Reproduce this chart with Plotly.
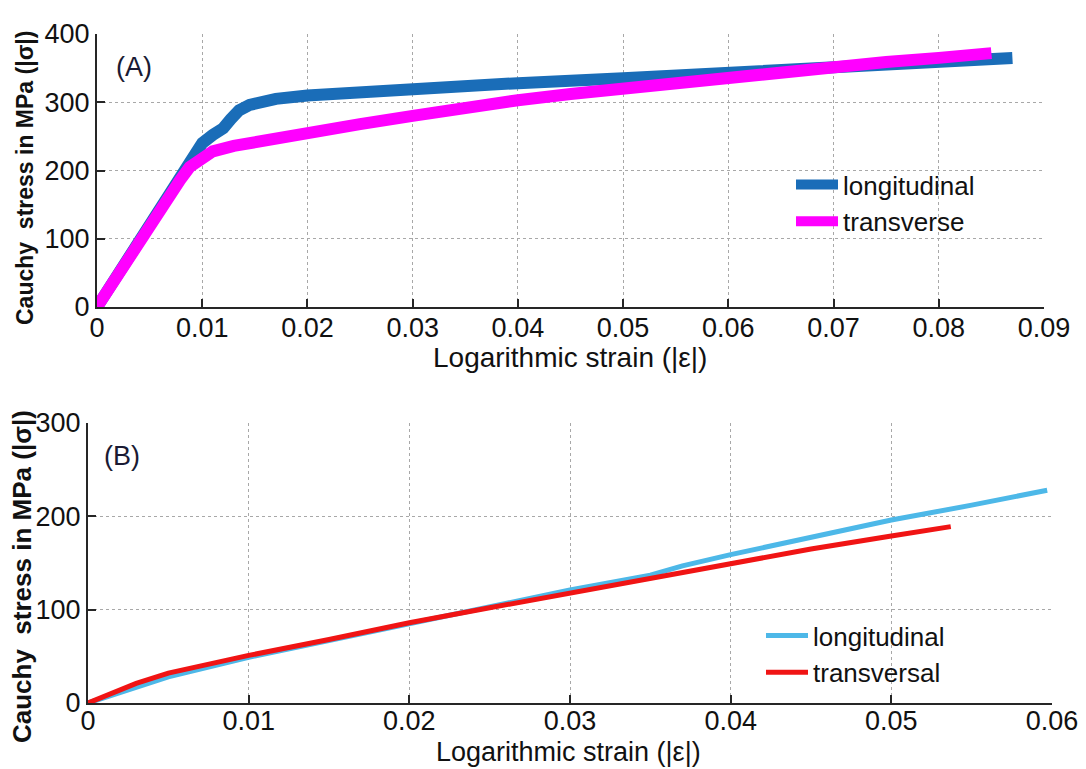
import plotly.graph_objects as go

# ---- Panel (A) data ----
a_long_x = [0, 0.001, 0.002, 0.0034, 0.005, 0.0065, 0.0079, 0.009, 0.0095, 0.010, 0.011, 0.012, 0.0127,
            0.0135, 0.0145, 0.0155, 0.017, 0.02, 0.025, 0.03, 0.035, 0.04, 0.05, 0.06, 0.07, 0.08, 0.087]
a_long_y = [0, 24, 50, 79, 117, 150, 186, 218, 228, 240, 252, 262, 275,
            288, 296, 301, 305, 310, 315, 320, 325, 328, 335, 343, 351, 358, 365]

a_trans_x = [0, 0.001, 0.002, 0.0034, 0.005, 0.0065, 0.0079, 0.0088, 0.0098, 0.011, 0.013, 0.015, 0.02,
             0.025, 0.03, 0.035, 0.04, 0.045, 0.05, 0.055, 0.06, 0.065, 0.07, 0.075, 0.08, 0.085]
a_trans_y = [0, 24, 50, 79, 117, 150, 186, 205, 218, 228, 236, 242, 255,
             268, 280, 293, 303, 312, 320, 330, 339, 346, 352, 359, 365, 372]

# ---- Panel (B) data ----
b_long_x = [0, 0.002, 0.005, 0.01, 0.015, 0.02, 0.025, 0.03, 0.035, 0.037, 0.04, 0.045, 0.05, 0.055, 0.0597]
b_long_y = [0, 11, 28, 49, 67, 86, 103, 121, 137, 147, 159, 178, 196, 212, 228]

b_trans_x = [0, 0.001, 0.002, 0.003, 0.005, 0.0075, 0.01, 0.015, 0.02, 0.025, 0.03, 0.035, 0.037,
             0.04, 0.045, 0.05, 0.0537]
b_trans_y = [0, 7, 15, 21, 32, 42, 51, 68, 86, 102, 118, 133, 140, 150, 165, 179, 189]

a_xticks = [0, 0.01, 0.02, 0.03, 0.04, 0.05, 0.06, 0.07, 0.08, 0.09]
a_xlabels = ["0", "0.01", "0.02", "0.03", "0.04", "0.05", "0.06", "0.07", "0.08", "0.09"]
a_yticks = [0, 100, 200, 300, 400]
b_xticks = [0, 0.01, 0.02, 0.03, 0.04, 0.05, 0.06]
b_xlabels = ["0", "0.01", "0.02", "0.03", "0.04", "0.05", "0.06"]
b_yticks = [0, 100, 200, 300]

x_title = "Logarithmic strain (|ε|)"
y_title = "<b>Cauchy\u00a0 stress in MPa (|σ|)</b>"

# page body has an 8px margin; figure is sized to fit the remaining window
OFF = 8
W, H = 1086 - OFF, 769 - OFF
FONT = "Arial, Liberation Sans, sans-serif"


def px_x(p):
    return (p - OFF) / W


def px_y(p):
    return 1 - (p - OFF) / H


fig = go.Figure()
fig.add_trace(go.Scatter(x=a_long_x, y=a_long_y, mode="lines", name="longitudinal",
                         line=dict(color="#1a6db8", width=12), xaxis="x", yaxis="y", legend="legend"))
fig.add_trace(go.Scatter(x=a_trans_x, y=a_trans_y, mode="lines", name="transverse",
                         line=dict(color="#ff00ff", width=12), xaxis="x", yaxis="y", legend="legend"))
fig.add_trace(go.Scatter(x=b_long_x, y=b_long_y, mode="lines", name="longitudinal",
                         line=dict(color="#4db8e8", width=5), xaxis="x2", yaxis="y2", legend="legend2"))
fig.add_trace(go.Scatter(x=b_trans_x, y=b_trans_y, mode="lines", name="transversal",
                         line=dict(color="#f01414", width=5), xaxis="x2", yaxis="y2", legend="legend2"))

axis_common = dict(
    showline=True, linecolor="#262626", linewidth=2,
    ticks="inside", ticklen=8, tickwidth=2, tickcolor="#262626",
    showgrid=True, gridcolor="#a8a8a8", griddash="dot", gridwidth=1,
    zeroline=False, automargin=False,
    tickfont=dict(family=FONT, size=27, color="#111111"),
)

legend_common = dict(xanchor="left", yanchor="top", bgcolor="rgba(0,0,0,0)",
                     font=dict(family=FONT, size=26, color="#111111"),
                     tracegroupgap=0, itemwidth=42)

fig.update_layout(
    template="none",
    width=W, height=H,
    margin=dict(l=0, r=0, t=0, b=0),
    paper_bgcolor="white", plot_bgcolor="white",
    font=dict(family=FONT, color="#111111"),
    xaxis=dict(**axis_common, domain=[px_x(97), px_x(1044)], range=[0, 0.09],
               tickvals=a_xticks, ticktext=a_xlabels, anchor="y", ticklabelstandoff=-4),
    yaxis=dict(**axis_common, domain=[px_y(307), px_y(34)], range=[0, 400],
               tickvals=a_yticks, anchor="x"),
    xaxis2=dict(**axis_common, domain=[px_x(88), px_x(1052)], range=[0, 0.06],
                tickvals=b_xticks, ticktext=b_xlabels, anchor="y2", ticklabelstandoff=-7),
    yaxis2=dict(**axis_common, domain=[px_y(703), px_y(423)], range=[0, 300],
                tickvals=b_yticks, anchor="x2"),
    legend=dict(**legend_common, x=px_x(791), y=px_y(161)),
    legend2=dict(**legend_common, x=px_x(761), y=px_y(612)),
    showlegend=True,
    annotations=[
        dict(text="(A)", x=0.0035, y=352, xref="x", yref="y", showarrow=False,
             font=dict(family=FONT, size=27, color="#1a1a33")),
        dict(text="(B)", x=0.0021, y=265, xref="x2", yref="y2", showarrow=False,
             font=dict(family=FONT, size=27, color="#1a1a33")),
        # axis titles
        dict(text=x_title, x=px_x(570), y=px_y(357), xref="paper", yref="paper",
             xanchor="center", yanchor="middle", showarrow=False,
             font=dict(family=FONT, size=28, color="#111111")),
        dict(text=x_title, x=px_x(568), y=px_y(752), xref="paper", yref="paper",
             xanchor="center", yanchor="middle", showarrow=False,
             font=dict(family=FONT, size=27, color="#111111")),
        dict(text=y_title, x=px_x(25), y=px_y(178), xref="paper", yref="paper",
             xanchor="center", yanchor="middle", textangle=-90, showarrow=False,
             font=dict(family=FONT, size=23, color="#111111")),
        dict(text=y_title, x=px_x(22), y=px_y(577), xref="paper", yref="paper",
             xanchor="center", yanchor="middle", textangle=-90, showarrow=False,
             font=dict(family=FONT, size=26, color="#111111")),
    ],
)

fig.write_html("out.html")
